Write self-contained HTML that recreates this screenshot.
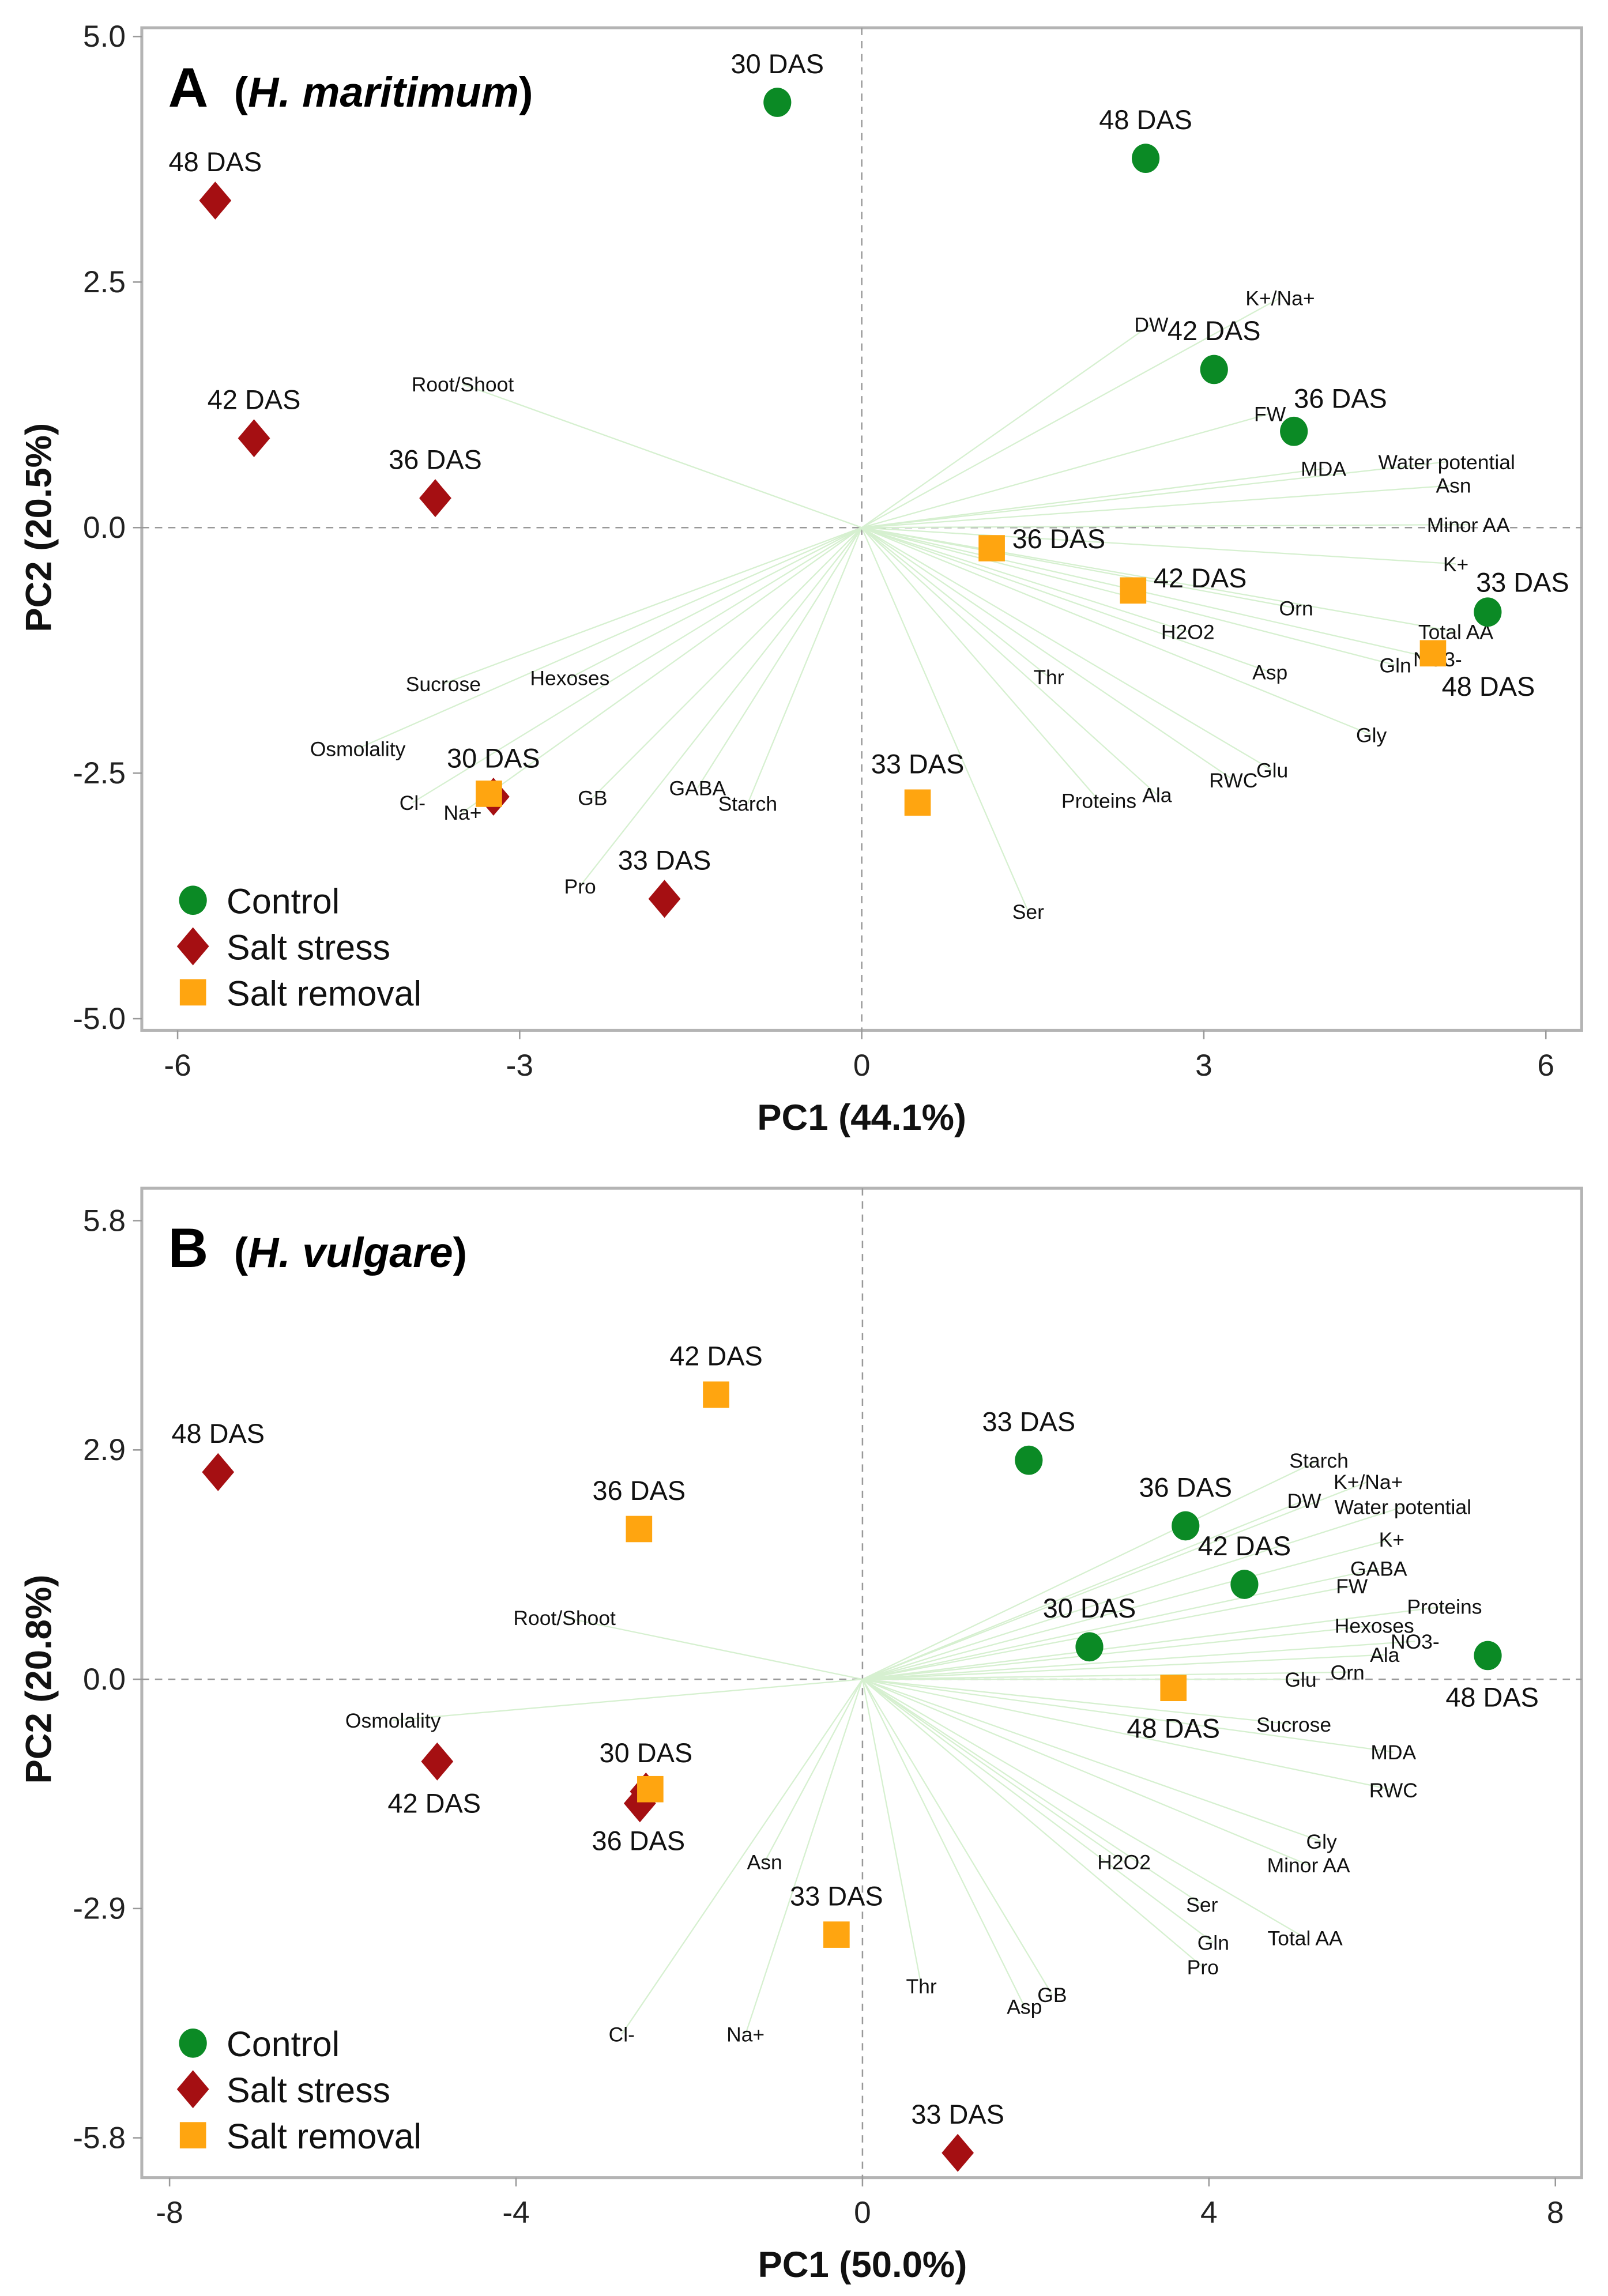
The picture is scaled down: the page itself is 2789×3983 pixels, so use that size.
<!DOCTYPE html>
<html><head><meta charset="utf-8">
<style>
html,body{margin:0;padding:0;background:#fff;}
svg{display:block;font-family:"Liberation Sans",Arial,sans-serif;}
</style></head>
<body>
<svg id="chart" width="2789" height="3983" viewBox="0 0 1100 1571" preserveAspectRatio="none" xmlns="http://www.w3.org/2000/svg">
<rect width="1100" height="1571" fill="#fff"/>
</svg>
<script>
// ===== Panel A data =====
const aGroups = ["Control","Salt stress","Salt removal"];
const aCtrlLabels = ["30 DAS","48 DAS","42 DAS","36 DAS","33 DAS"];
const aCtrlX = [-0.74, 2.49, 3.09, 3.79, 5.49];
const aCtrlY = [4.33, 3.76, 1.61, 0.98, -0.86];
const aSaltLabels = ["48 DAS","42 DAS","36 DAS","30 DAS","33 DAS"];
const aSaltX = [-5.67, -5.33, -3.74, -3.23, -1.73];
const aSaltY = [3.33, 0.91, 0.30, -2.74, -3.78];
const aRemLabels = ["36 DAS","42 DAS","48 DAS","33 DAS",""];
const aRemX = [1.14, 2.38, 5.01, 0.49, -3.27];
const aRemY = [-0.21, -0.64, -1.28, -2.80, -2.71];
const aLoadNames = ["DW","K+/Na+","Root/Shoot","FW","MDA","Water potential","Asn","Minor AA","K+","Orn","Total AA","H2O2","NO3-","Gln","Asp","Thr","Gly","Glu","RWC","Ala","Proteins","Ser","Starch","GABA","GB","Pro","Na+","Cl-","Osmolality","Sucrose","Hexoses"];
const aLoadX = [2.54,3.67,-3.50,3.58,4.05,5.13,5.19,5.32,5.21,3.81,5.21,2.86,5.05,4.68,3.58,1.64,4.47,3.60,3.26,2.59,2.08,1.46,-1.00,-1.44,-2.36,-2.47,-3.50,-3.94,-4.42,-3.67,-2.56];
const aLoadY = [2.07,2.34,1.46,1.16,0.60,0.67,0.43,0.03,-0.37,-0.82,-1.06,-1.06,-1.34,-1.40,-1.47,-1.52,-2.11,-2.47,-2.57,-2.72,-2.78,-3.91,-2.81,-2.65,-2.75,-3.65,-2.90,-2.80,-2.25,-1.59,-1.53];
const aXTicks = [-6,-3,0,3,6];
const aYTicks = [5.0,2.5,0.0,-2.5,-5.0];
const aYTickLabels = ["5.0","2.5","0.0","-2.5","-5.0"];

// ===== Panel B data =====
const bCtrlLabels = ["33 DAS","36 DAS","42 DAS","30 DAS","48 DAS"];
const bCtrlX = [1.92, 3.73, 4.41, 2.62, 7.22];
const bCtrlY = [2.77, 1.94, 1.20, 0.41, 0.30];
const bSaltLabels = ["48 DAS","42 DAS","30 DAS","36 DAS","33 DAS"];
const bSaltX = [-7.44, -4.91, -2.50, -2.57, 1.10];
const bSaltY = [2.62, -1.04, -1.42, -1.57, -5.99];
const bRemLabels = ["42 DAS","36 DAS","48 DAS","","33 DAS"];
const bRemX = [-1.69, -2.58, 3.59, -2.45, -0.30];
const bRemY = [3.60, 1.90, -0.11, -1.39, -3.23];
const bLoadNames = ["Starch","K+/Na+","DW","Water potential","K+","GABA","FW","Proteins","Hexoses","NO3-","Ala","Orn","Glu","Sucrose","MDA","RWC","Gly","Minor AA","H2O2","Total AA","Ser","Gln","Pro","GB","Asp","Thr","Na+","Cl-","Asn","Osmolality","Root/Shoot"];
const bLoadX = [5.27,5.84,5.10,6.24,6.11,5.96,5.65,6.72,5.91,6.38,6.03,5.60,5.06,4.98,6.13,6.13,5.30,5.15,3.02,5.11,3.92,4.05,3.93,2.19,1.87,0.68,-1.35,-2.78,-1.13,-5.42,-3.44];
const bLoadY = [2.77,2.50,2.26,2.18,1.77,1.40,1.18,0.92,0.68,0.48,0.31,0.09,0.0,-0.57,-0.92,-1.40,-2.05,-2.35,-2.31,-3.27,-2.85,-3.33,-3.64,-3.99,-4.14,-3.88,-4.49,-4.49,-2.31,-0.52,0.78];
const bXTicks = [-8,-4,0,4,8];
const bYTicks = [5.8,2.9,0.0,-2.9,-5.8];
const bYTickLabels = ["5.8","2.9","0.0","-2.9","-5.8"];

const NS = "http://www.w3.org/2000/svg";
const svg = document.getElementById("chart");
function mk(tag, attrs, parent, text){
  const e = document.createElementNS(NS, tag);
  for (const k in attrs) e.setAttribute(k, attrs[k]);
  if (text !== undefined) e.textContent = text;
  (parent||svg).appendChild(e);
  return e;
}

function drawPanel(P){
  const g = mk("g", {});
  
  
  const sx = v => P.x0 + v * P.kx;
  const sy = v => P.y0 - v * P.ky;
  const fr = mk("rect", {x:P.fl, y:P.ft, width:P.fr-P.fl, height:P.fb-P.ft, fill:"none", stroke:"#b4b4b4", "stroke-width":2}, g);
  
  
  const zx = mk("line", {x1:sx(0), x2:sx(0), y1:P.ft, y2:P.fb, stroke:"#999", "stroke-dasharray":"5,4", "stroke-width":1}, g);
  
  
  const zy = mk("line", {x1:P.fl, x2:P.fr, y1:sy(0), y2:sy(0), stroke:"#999", "stroke-dasharray":"5,4", "stroke-width":1}, g);
  
  
  P.xTicks.forEach(t => {
    mk("line", {x1:sx(t), x2:sx(t), y1:P.fb, y2:P.fb+6, stroke:"#999"}, g);
    const tl = mk("text", {x:sx(t), y:P.fb+31, "text-anchor":"middle", "font-size":21, fill:"#222"}, g, String(t));
    
    
  });
  P.yTicks.forEach((t,i) => {
    mk("line", {x1:P.fl-6, x2:P.fl, y1:sy(t), y2:sy(t), stroke:"#999"}, g);
    const tl = mk("text", {x:P.fl-11, y:sy(t)+7, "text-anchor":"end", "font-size":21, fill:"#222"}, g, P.yTickLabels[i]);
    
    
  });
  P.loadNames.forEach((n,i) => {
    const ln = mk("line", {x1:sx(0), y1:sy(0), x2:sx(P.loadX[i]), y2:sy(P.loadY[i]), stroke:"#d6f0d0", "stroke-width":0.9}, g);
    
    
  });
  P.loadNames.forEach((n,i) => {
    const lt = mk("text", {x:sx(P.loadX[i]), y:sy(P.loadY[i])+5, "text-anchor":"middle", "font-size":14, fill:"#111"}, g, n);
    
    
  });
  function marker(kind, cx, cy, parent){
    let m;
    if (kind === 0) m = mk("ellipse", {cx:cx, cy:cy, rx:9.5, ry:10, fill:"#0b8a25"}, parent);
    else if (kind === 1) m = mk("polygon", {points:`${cx},${cy-13} ${cx+11},${cy} ${cx},${cy+13} ${cx-11},${cy}`, fill:"#a50f12"}, parent);
    else m = mk("rect", {x:cx-9, y:cy-9, width:18, height:18, fill:"#ffa510"}, parent);
    return m;
  }
  const series = [[P.ctrlX,P.ctrlY,P.ctrlL,P.ctrlOff],[P.saltX,P.saltY,P.saltL,P.saltOff],[P.remX,P.remY,P.remL,P.remOff]];
  series.forEach((s,k) => {
    s[0].forEach((v,i) => {
      const cx = sx(v), cy = sy(s[1][i]);
      const m = marker(k, cx, cy, g);
      
      
      if (!s[2][i]) return;
      const off = s[3][i];
      const t = mk("text", {x:cx+off[0], y:cy+off[1], "text-anchor":off[2]||"middle", "font-size":18.5, fill:"#111"}, g, s[2][i]);
      
      
    });
  });
  const lg = mk("g", {}, g);
  
  
  ["Control","Salt stress","Salt removal"].forEach((n,k) => {
    const y = P.legY + k*31.5;
    marker(k, 132, y, lg);
    const lt = mk("text", {x:155, y:y+9, "font-size":24, fill:"#111"}, lg, n);
    
    
  });
  const pl = mk("text", {x:115, y:P.ft+54, "font-size":38, "font-weight":"bold", fill:"#000"}, g, P.letter);
  
  
  const sp = mk("text", {x:160, y:P.ft+54, "font-size":29, "font-weight":"bold", fill:"#000"}, g);
  
  
  mk("tspan", {}, sp, "(");
  mk("tspan", {"font-style":"italic"}, sp, P.species);
  mk("tspan", {}, sp, ")");
  const xt = mk("text", {x:sx(0), y:P.fb+68, "text-anchor":"middle", "font-size":25, "font-weight":"bold", fill:"#111"}, g, P.xTitle);
  
  
  const yt = mk("text", {x:0, y:0, "text-anchor":"middle", "font-size":25, "font-weight":"bold", fill:"#111", transform:`translate(35,${sy(0)}) rotate(-90)`}, g, P.yTitle);
  
  
}

const up = [0,-20];
drawPanel({
  name:"panel-a-h-maritimum", letter:"A", species:"H. maritimum", xTitle:"PC1 (44.1%)", yTitle:"PC2 (20.5%)",
  x0:589.5, kx:78, y0:361, ky:67.2, fl:97, fr:1082, ft:19, fb:705,
  xTicks:aXTicks, yTicks:aYTicks, yTickLabels:aYTickLabels,
  loadNames:aLoadNames, loadX:aLoadX, loadY:aLoadY,
  ctrlX:aCtrlX, ctrlY:aCtrlY, ctrlL:aCtrlLabels, ctrlOff:[up,up,up,[0,-16,"start"],[-8,-14,"start"]],
  saltX:aSaltX, saltY:aSaltY, saltL:aSaltLabels, saltOff:[up,up,up,up,up],
  remX:aRemX, remY:aRemY, remL:aRemLabels, remOff:[[14,0,"start"],[14,-2,"start"],[6,29,"start"],up,up],
  legY:616
});
drawPanel({
  name:"panel-b-h-vulgare", letter:"B", species:"H. vulgare", xTitle:"PC1 (50.0%)", yTitle:"PC2 (20.8%)",
  x0:590, kx:59.25, y0:1149, ky:54.1, fl:97, fr:1082, ft:813, fb:1490,
  xTicks:bXTicks, yTicks:bYTicks, yTickLabels:bYTickLabels,
  loadNames:bLoadNames, loadX:bLoadX, loadY:bLoadY,
  ctrlX:bCtrlX, ctrlY:bCtrlY, ctrlL:bCtrlLabels, ctrlOff:[up,up,up,up,[3,35]],
  saltX:bSaltX, saltY:bSaltY, saltL:bSaltLabels, saltOff:[up,[-2,35],up,[-1,32],up],
  remX:bRemX, remY:bRemY, remL:bRemLabels, remOff:[up,up,[0,34],up,up],
  legY:1398
});
</script>
</body></html>
